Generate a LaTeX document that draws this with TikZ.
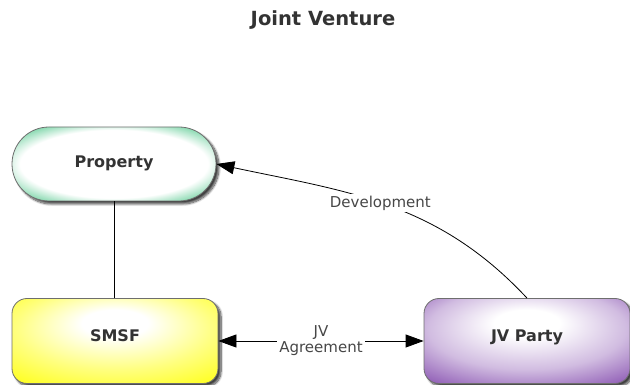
\documentclass[tikz,border=0pt]{standalone}
\usepackage{fontspec}
\setmainfont{DejaVu Sans}
\usetikzlibrary{arrows.meta,shadows.blur}

\definecolor{txtgray}{HTML}{333333}
\definecolor{rimgray}{HTML}{6E6E6E}
\definecolor{rimgreen}{HTML}{7FD6AA}
\definecolor{rimyellow}{HTML}{FFFF00}
\definecolor{rimpurple}{HTML}{7B3FA8}

% soft fills: white core, coloured rim
\pgfdeclareradialshading{glowgreen}{\pgfpoint{0bp}{0bp}}{color(0bp)=(white); color(23bp)=(white); color(31bp)=(rimgreen); color(60bp)=(rimgreen)}
\pgfdeclareradialshading{glowyellow}{\pgfpoint{0bp}{12bp}}{color(0bp)=(white); color(8bp)=(white); color(24bp)=(rimyellow!50); color(42bp)=(rimyellow); color(60bp)=(rimyellow)}
\pgfdeclareradialshading{glowpurple}{\pgfpoint{0bp}{12bp}}{color(0bp)=(white); color(8bp)=(white); color(24bp)=(rimpurple!35); color(42bp)=(rimpurple); color(60bp)=(rimpurple)}

\tikzset{
  box/.style={draw=rimgray, line width=0.8pt, rounded corners=15pt,
    minimum width=206pt, minimum height=85pt, text=txtgray,
    text height=12pt, text depth=10pt,
    font=\fontsize{16}{19}\selectfont\bfseries,
    blur shadow={shadow xshift=3pt, shadow yshift=-3pt, shadow blur steps=10, shadow opacity=75}},
  pill/.style={box, rounded corners=37pt, minimum width=204pt, minimum height=74pt,
    text height=12pt, text depth=4pt},
  lbl/.style={fill=white, text=txtgray!90, font=\fontsize{15}{16}\selectfont,
    align=center, inner sep=2pt},
  link/.style={line width=0.8pt, >={Triangle[length=18pt,width=13pt]}}
}

\begin{document}
\begin{tikzpicture}[x=1pt,y=1pt]
  \useasboundingbox (0,0) rectangle (630,385);
  % Titel
  \node[font=\fontsize{19.5}{22}\selectfont\bfseries, text=txtgray] (title) at (323,365) {Joint Venture};
  % Knoten
  \node[pill, shading=glowgreen] (prop) at (114,221) {Property};
  \node[box, shading=glowyellow] (smsf) at (115,44) {SMSF};
  \node[box, shading=glowpurple] (jvp) at (527,44) {JV Party};
  % Verbindungen
  \draw[link] (prop.south) -- (prop.south |- smsf.north);
  \draw[link, ->] (jvp.north) to[out=133,in=-12]
    node[lbl, pos=0.52] (dev) {Development} (prop.east);
  \draw[link, <->] (smsf.east) -- node[lbl] (agr) {JV\\Agreement} (jvp.west);
\end{tikzpicture}
\end{document}
